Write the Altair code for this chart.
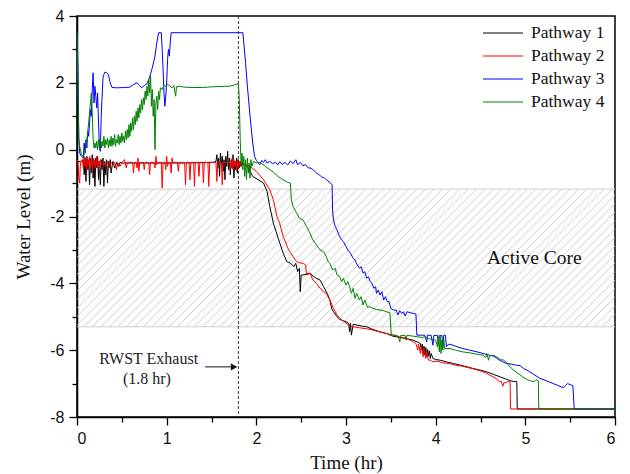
import altair as alt
import pandas as pd
import numpy as np

names = ["Pathway 1", "Pathway 2", "Pathway 3", "Pathway 4"]
colors = ["#000000", "#ff0000", "#0000ff", "#008000"]

t1 = [0.00, 0.04, 0.07, 0.08, 0.09, 0.10, 0.11, 0.12, 0.13, 0.14, 0.15, 0.16, 0.17, 0.18, 0.19, 0.20, 0.21, 0.22, 0.23, 0.24,
      0.25, 0.26, 0.27, 0.28, 0.29, 0.30, 0.31, 0.32, 0.33, 0.34, 0.35, 0.36, 0.37, 0.38, 0.40, 0.42, 0.44, 0.46, 0.48, 0.50,
      0.80, 1.20, 1.52, 1.55, 1.56, 1.57, 1.58, 1.59, 1.60, 1.61, 1.62, 1.63, 1.64, 1.65, 1.66, 1.67, 1.68, 1.69, 1.70, 1.71,
      1.72, 1.73, 1.74, 1.75, 1.76, 1.77, 1.78, 1.79, 1.80, 1.81, 1.82, 1.83, 1.84, 1.86, 1.90, 1.96, 2.02, 2.08, 2.12, 2.15,
      2.19, 2.25, 2.30, 2.34, 2.38, 2.42, 2.44, 2.46, 2.48, 2.49, 2.50, 2.52, 2.56, 2.60, 2.64, 2.67, 2.71, 2.75, 2.79, 2.82,
      2.84, 2.86, 2.90, 2.93, 2.97, 3.00, 3.03, 3.04, 3.05, 3.06, 3.08, 3.12, 3.18, 3.23, 3.30, 3.38, 3.45, 3.52, 3.60, 3.68,
      3.75, 3.80, 3.83, 3.84, 3.85, 3.86, 3.87, 3.88, 3.89, 3.90, 3.91, 3.92, 3.93, 3.94, 3.95, 3.97, 4.00, 4.05, 4.12, 4.20,
      4.28, 4.35, 4.42, 4.50, 4.57, 4.64, 4.72, 4.78, 4.84, 4.88, 4.905, 4.91, 6.00]
y1 = [-0.35, -0.36, -0.30, -0.75, -0.25, -0.95, -0.20, -0.60, -0.30, -1.05, -0.25, -0.70, -0.15, -0.85, -0.30, -1.10, -0.25, -0.55, -0.20, -0.90,
      -0.35, -1.05, -0.30, -0.60, -0.25, -1.10, -0.35, -0.75, -0.30, -1.00, -0.35, -0.55, -0.30, -0.70, -0.35, -0.55, -0.38, -0.50, -0.38, -0.40,
      -0.40, -0.40, -0.38, -0.35, -0.15, -0.55, -0.25, -0.80, -0.10, -0.45, -0.20, -0.65, -0.30, -0.90, -0.20, -0.50, -0.05, -0.60, -0.25, -0.75,
      -0.30, -0.55, -0.15, -0.85, -0.35, -0.60, -0.25, -0.70, -0.30, -0.55, -0.35, -0.50, -0.40, -0.42, -0.50, -0.80, -0.90, -1.00, -1.25, -1.70,
      -2.20, -2.70, -3.10, -3.35, -3.40, -3.50, -3.40, -3.65, -3.55, -4.25, -3.75, -3.75, -3.72, -3.70, -3.80, -3.85, -3.90, -4.10, -4.30, -4.50,
      -4.75, -4.85, -5.00, -5.08, -5.12, -5.15, -5.20, -5.45, -5.20, -5.55, -5.22, -5.25, -5.28, -5.30, -5.38, -5.45, -5.50, -5.58, -5.62, -5.66,
      -5.70, -5.76, -5.80, -6.00, -5.82, -6.10, -5.88, -6.15, -5.92, -6.20, -5.98, -6.18, -6.02, -6.25, -6.10, -6.25, -6.28, -6.30, -6.35, -6.40,
      -6.45, -6.50, -6.55, -6.60, -6.65, -6.72, -6.80, -6.86, -6.92, -6.94, -6.94, -7.76, -7.76]

t2 = [0.00, 0.01, 0.02, 0.03, 0.035, 0.04, 0.06, 0.07, 0.08, 0.09, 0.10, 0.11, 0.12, 0.13, 0.14, 0.15, 0.16, 0.17, 0.18, 0.19,
      0.20, 0.21, 0.22, 0.23, 0.24, 0.25, 0.26, 0.28, 0.30, 0.32, 0.34, 0.36, 0.38, 0.40, 0.42, 0.44, 0.45, 0.48, 0.50, 0.53,
      0.55, 0.56, 0.62, 0.63, 0.64, 0.66, 0.67, 0.68, 0.69, 0.70, 0.74, 0.75, 0.76, 0.80, 0.81, 0.82, 0.86, 0.87, 0.88, 0.89,
      0.90, 0.94, 0.95, 0.96, 0.98, 0.99, 1.00, 1.01, 1.02, 1.04, 1.05, 1.06, 1.07, 1.12, 1.13, 1.14, 1.20, 1.21, 1.22, 1.25,
      1.26, 1.27, 1.30, 1.31, 1.32, 1.35, 1.36, 1.37, 1.40, 1.41, 1.42, 1.46, 1.47, 1.48, 1.55, 1.56, 1.57, 1.61, 1.62, 1.63,
      1.70, 1.72, 1.73, 1.74, 1.75, 1.76, 1.77, 1.78, 1.79, 1.80, 1.81, 1.82, 1.83, 1.88, 1.93, 2.00, 2.08, 2.15, 2.19, 2.23,
      2.26, 2.30, 2.36, 2.41, 2.45, 2.48, 2.52, 2.55, 2.56, 2.60, 2.63, 2.67, 2.71, 2.75, 2.78, 2.82, 2.86, 2.90, 2.93, 2.98,
      3.03, 3.08, 3.15, 3.23, 3.30, 3.38, 3.45, 3.53, 3.60, 3.68, 3.75, 3.78, 3.80, 3.81, 3.83, 3.84, 3.86, 3.87, 3.89, 3.90,
      3.92, 3.94, 3.97, 4.02, 4.08, 4.15, 4.22, 4.30, 4.36, 4.42, 4.50, 4.56, 4.60, 4.64, 4.68, 4.71, 4.73, 4.75, 4.76, 4.79,
      4.81, 4.83, 4.835, 6.00]
y2 = [-0.30, -0.35, -0.85, -1.00, -0.60, -0.38, -0.30, -0.55, -0.20, -0.50, -0.25, -0.60, -0.30, -0.45, -0.20, -0.55, -0.30, -0.65, -0.25, -0.45,
      -0.30, -0.55, -0.20, -0.50, -0.35, -0.60, -0.30, -0.45, -0.38, -0.50, -0.35, -0.55, -0.38, -0.45, -0.38, -0.60, -0.38, -0.50, -0.38, -0.30,
      -0.55, -0.38, -0.38, -0.70, -0.38, -0.38, -0.55, -0.25, -0.65, -0.38, -0.38, -0.60, -0.38, -0.38, -0.75, -0.38, -0.38, -0.55, -0.20, -0.45,
      -0.38, -0.38, -1.15, -0.38, -0.38, -0.60, -0.20, -0.50, -0.38, -0.38, -0.70, -0.25, -0.38, -0.38, -0.65, -0.38, -0.38, -1.05, -0.38, -0.38,
      -0.90, -0.38, -0.38, -1.10, -0.38, -0.38, -0.80, -0.38, -0.38, -1.00, -0.38, -0.38, -1.10, -0.38, -0.38, -0.95, -0.38, -0.38, -1.05, -0.38,
      -0.38, -0.55, -0.25, -0.60, -0.30, -0.50, -0.35, -0.65, -0.30, -0.55, -0.35, -0.50, -0.40, -0.45, -0.50, -0.65, -0.90, -1.20, -1.50, -2.00,
      -2.20, -2.60, -3.00, -3.20, -3.35, -3.38, -3.40, -3.45, -3.75, -3.70, -3.90, -4.00, -4.15, -4.25, -4.30, -4.50, -4.75, -4.95, -5.05, -5.15,
      -5.25, -5.30, -5.33, -5.36, -5.40, -5.46, -5.50, -5.55, -5.60, -5.65, -5.75, -5.80, -6.00, -5.82, -6.10, -5.88, -6.20, -5.95, -6.25, -6.05,
      -6.30, -6.30, -6.35, -6.33, -6.38, -6.40, -6.45, -6.48, -6.52, -6.56, -6.62, -6.68, -6.74, -6.80, -6.86, -6.95, -6.92, -7.08, -6.98, -6.96,
      -6.94, -6.94, -7.76, -7.76]

t3 = [0.00, 0.01, 0.02, 0.03, 0.05, 0.07, 0.08, 0.09, 0.10, 0.11, 0.12, 0.13, 0.15, 0.16, 0.17, 0.18, 0.19, 0.20, 0.21, 0.22,
      0.23, 0.24, 0.25, 0.26, 0.27, 0.28, 0.29, 0.30, 0.31, 0.33, 0.35, 0.37, 0.39, 0.45, 0.52, 0.59, 0.63, 0.67, 0.70, 0.72,
      0.75, 0.78, 0.81, 0.84, 0.87, 0.89, 0.91, 0.94, 0.95, 0.96, 0.97, 0.98, 0.99, 1.00, 1.01, 1.02, 1.03, 1.04, 1.05, 1.85,
      1.88, 1.90, 1.93, 1.96, 1.98, 2.00, 2.02, 2.04, 2.06, 2.08, 2.10, 2.12, 2.15, 2.18, 2.21, 2.24, 2.26, 2.29, 2.32, 2.35,
      2.38, 2.41, 2.44, 2.46, 2.49, 2.52, 2.55, 2.58, 2.61, 2.64, 2.67, 2.70, 2.73, 2.76, 2.79, 2.82, 2.845, 2.85, 2.86, 2.88,
      2.90, 2.92, 2.95, 2.97, 3.00, 3.02, 3.05, 3.08, 3.10, 3.12, 3.15, 3.17, 3.19, 3.21, 3.23, 3.25, 3.27, 3.29, 3.31, 3.33,
      3.34, 3.36, 3.38, 3.40, 3.42, 3.44, 3.46, 3.48, 3.50, 3.53, 3.56, 3.58, 3.60, 3.62, 3.64, 3.66, 3.68, 3.72, 3.75, 3.78,
      3.79, 3.85, 3.88, 3.90, 3.91, 3.95, 3.97, 3.98, 4.02, 4.03, 4.04, 4.07, 4.08, 4.09, 4.11, 4.12, 4.13, 4.16, 4.22, 4.30,
      4.38, 4.46, 4.53, 4.60, 4.65, 4.70, 4.75, 4.79, 4.85, 4.90, 4.94, 4.98, 5.02, 5.08, 5.16, 5.24, 5.31, 5.36, 5.40, 5.43,
      5.45, 5.47, 5.50, 5.53, 5.545, 6.00]
y3 = [3.50, 2.60, 0.40, -0.10, -0.20, -0.25, 0.20, -0.10, 0.30, 0.05, 0.55, 0.40, 1.20, 1.00, 1.80, 2.30, 1.40, 1.90, 1.60, 1.25,
      1.70, 0.80, 0.10, -0.05, 1.00, 1.60, 2.15, 2.25, 2.32, 2.30, 2.25, 2.00, 1.86, 1.85, 1.86, 1.87, 1.95, 2.00, 1.92, 1.85,
      1.92, 1.97, 2.17, 2.45, 2.80, 3.20, 3.50, 3.50, 3.00, 2.40, 1.70, 1.30, 1.60, 2.00, 2.70, 3.00, 2.80, 3.20, 3.50, 3.50,
      2.60, 1.90, 1.00, 0.20, -0.20, -0.32, -0.40, -0.45, -0.32, -0.38, -0.30, -0.40, -0.35, -0.42, -0.38, -0.45, -0.36, -0.44, -0.38, -0.46,
      -0.34, -0.42, -0.30, -0.45, -0.38, -0.48, -0.45, -0.55, -0.55, -0.62, -0.70, -0.75, -0.82, -0.85, -0.92, -0.98, -1.05, -1.80, -2.10, -2.30,
      -2.40, -2.55, -2.70, -2.75, -2.90, -3.00, -3.10, -3.25, -3.30, -3.42, -3.55, -3.50, -3.70, -3.65, -3.85, -3.80, -3.95, -4.00, -4.15, -4.10,
      -4.30, -4.20, -4.35, -4.25, -4.50, -4.40, -4.55, -4.55, -4.75, -4.80, -4.80, -4.95, -4.82, -4.90, -4.85, -4.98, -4.85, -4.88, -4.90, -4.92,
      -5.55, -5.55, -5.56, -5.75, -5.55, -5.56, -5.85, -5.56, -5.56, -5.80, -5.56, -5.56, -5.90, -5.55, -5.56, -5.90, -5.85, -5.82, -5.88, -5.95,
      -6.00, -6.05, -6.10, -6.15, -6.18, -6.28, -6.35, -6.40, -6.42, -6.45, -6.46, -6.55, -6.60, -6.70, -6.84, -6.92, -7.00, -7.05, -7.10, -7.12,
      -7.05, -7.00, -7.03, -7.06, -7.76, -7.76]

t4 = [0.00, 0.01, 0.02, 0.03, 0.05, 0.07, 0.09, 0.11, 0.13, 0.15, 0.16, 0.17, 0.18, 0.19, 0.20, 0.21, 0.22, 0.23, 0.24, 0.25,
      0.26, 0.27, 0.28, 0.29, 0.30, 0.31, 0.32, 0.33, 0.34, 0.35, 0.36, 0.37, 0.38, 0.39, 0.40, 0.41, 0.42, 0.43, 0.44, 0.45,
      0.46, 0.47, 0.48, 0.49, 0.50, 0.51, 0.52, 0.53, 0.54, 0.55, 0.56, 0.57, 0.58, 0.59, 0.60, 0.61, 0.62, 0.63, 0.64, 0.65,
      0.66, 0.67, 0.68, 0.69, 0.70, 0.71, 0.72, 0.73, 0.74, 0.75, 0.76, 0.77, 0.78, 0.79, 0.80, 0.81, 0.82, 0.83, 0.84, 0.85,
      0.86, 0.87, 0.88, 0.89, 0.90, 0.91, 0.92, 0.93, 0.95, 0.97, 0.99, 1.01, 1.03, 1.06, 1.08, 1.10, 1.11, 1.14, 1.20, 1.30,
      1.40, 1.50, 1.60, 1.70, 1.76, 1.80, 1.81, 1.82, 1.83, 1.84, 1.85, 1.86, 1.87, 1.88, 1.89, 1.90, 1.91, 1.92, 1.93, 1.94,
      1.95, 1.97, 2.00, 2.03, 2.06, 2.10, 2.15, 2.19, 2.24, 2.30, 2.35, 2.38, 2.39, 2.41, 2.45, 2.48, 2.52, 2.56, 2.59, 2.63,
      2.67, 2.71, 2.75, 2.78, 2.80, 2.82, 2.85, 2.88, 2.90, 2.93, 2.95, 2.97, 3.00, 3.02, 3.04, 3.06, 3.08, 3.10, 3.12, 3.15,
      3.17, 3.19, 3.21, 3.24, 3.27, 3.30, 3.34, 3.38, 3.42, 3.45, 3.49, 3.505, 3.55, 3.58, 3.60, 3.61, 3.66, 3.67, 3.68, 3.75,
      3.80, 3.85, 3.88, 3.92, 3.96, 4.00, 4.02, 4.03, 4.04, 4.05, 4.06, 4.07, 4.08, 4.09, 4.10, 4.12, 4.16, 4.22, 4.30, 4.38,
      4.46, 4.53, 4.56, 4.57, 4.59, 4.60, 4.64, 4.68, 4.72, 4.76, 4.80, 4.83, 4.87, 4.92, 4.97, 5.02, 5.06, 5.10, 5.12, 5.145,
      5.15, 6.00]
y4 = [3.50, 2.00, 0.30, 0.10, -0.15, -0.20, -0.10, 0.30, 0.80, 1.40, 1.70, 1.10, 0.30, 0.05, 0.20, 0.05, 0.25, 0.00, 0.30, 0.10,
      0.35, 0.05, 0.25, 0.10, 0.40, 0.05, 0.30, 0.15, 0.35, 0.05, 0.30, 0.10, 0.40, 0.10, 0.35, 0.15, 0.45, 0.10, 0.30, 0.20,
      0.45, 0.15, 0.40, 0.20, 0.50, 0.25, 0.40, 0.20, 0.55, 0.30, 0.60, 0.35, 0.75, 0.40, 0.80, 0.55, 0.95, 0.60, 1.00, 0.75,
      1.15, 0.85, 1.25, 0.95, 1.35, 1.10, 1.50, 1.20, 1.55, 1.35, 1.75, 1.50, 1.90, 1.60, 2.10, 1.70, 2.25, 1.30, 1.80, 1.00,
      1.50, 0.00, 1.40, 1.60, 1.20, 1.75, 1.50, 1.85, 1.80, 1.95, 1.88, 1.96, 1.92, 1.85, 1.92, 1.60, 1.88, 1.90, 1.87, 1.86,
      1.86, 1.88, 1.89, 1.90, 1.94, 1.98, 1.50, 0.30, -0.40, -0.10, -0.60, -0.20, -0.80, -0.30, -0.90, -0.25, -0.70, -0.40, -0.85, -0.30,
      -0.50, -0.35, -0.40, -0.38, -0.42, -0.50, -0.60, -0.67, -0.80, -0.90, -0.98, -1.00, -1.50, -1.70, -1.90, -2.05, -2.10, -2.30, -2.45, -2.70,
      -2.85, -3.00, -3.05, -3.20, -3.35, -3.40, -3.60, -3.55, -3.75, -3.80, -3.95, -3.85, -4.05, -3.95, -4.10, -4.30, -4.15, -4.45, -4.30, -4.50,
      -4.40, -4.65, -4.50, -4.72, -4.70, -4.75, -4.78, -4.80, -4.82, -4.85, -4.88, -5.55, -5.55, -5.58, -5.75, -5.56, -5.56, -5.70, -5.56, -5.58,
      -5.60, -5.62, -5.60, -5.65, -5.68, -5.70, -5.90, -5.60, -6.05, -5.55, -6.10, -5.70, -6.00, -5.65, -5.95, -5.95, -5.95, -6.00, -6.05, -6.08,
      -6.12, -6.15, -6.22, -6.10, -6.30, -6.18, -6.15, -6.20, -6.28, -6.30, -6.40, -6.50, -6.60, -6.70, -6.80, -6.88, -6.92, -6.94, -6.88, -6.92,
      -7.76, -7.76]

# Active core band and annotations
core_top = -1.18
core_bottom = -5.30
rwst_time = 1.8
arrow_t = [1.43, 1.74]
arrow_y = [-6.50, -6.50]
notes = [
    {"t": 0.80, "y": -6.26, "text": "RWST Exhaust", "size": 16},
    {"t": 0.78, "y": -6.86, "text": "(1.8 hr)", "size": 16},
    {"t": 5.10, "y": -3.24, "text": "Active Core", "size": 19.5},
]

W, H = 538, 401
XMIN, XMAX, YMIN, YMAX = 0, 6, -8, 4
px_per_x = W / (XMAX - XMIN)
px_per_y = H / (YMAX - YMIN)

rows = []
for name, ts, ys in zip(names, [t1, t2, t3, t4], [y1, y2, y3, y4]):
    for i, (t, y) in enumerate(zip(ts, ys)):
        rows.append({"series": name, "t": t, "y": y, "i": i})
df = pd.DataFrame(rows)

# hatch pattern for the active core band (45 degree lines)
band_h_px = (core_top - core_bottom) * px_per_y
spacing_px = 8.5
starts = np.arange(-band_h_px, W + spacing_px, spacing_px) / px_per_x
hatch = pd.DataFrame({
    "x0": starts,
    "x1": starts + band_h_px / px_per_x,
    "y0": core_bottom,
    "y1": core_top,
})

xs = alt.Scale(domain=[XMIN, XMAX], nice=False, zero=False)
ys_ = alt.Scale(domain=[YMIN, YMAX], nice=False, zero=False)

SERIF = "Liberation Serif"
SANS = "Liberation Sans"

x_major = alt.Axis(values=[0, 1, 2, 3, 4, 5, 6], labelExpr="datum.value + ''", title="Time (hr)",
                   orient="bottom", tickSize=8, labelPadding=5, titlePadding=7, grid=False)
y_major = alt.Axis(values=[-8, -6, -4, -2, 0, 2, 4], labelExpr="datum.value + ''", title="Water Level (m)",
                   orient="left", tickSize=8, labelPadding=5, titlePadding=16, grid=False)
x_minor = alt.Axis(values=[0.5, 1.5, 2.5, 3.5, 4.5, 5.5], labels=False, title=None, orient="bottom",
                   tickSize=5, domain=False, grid=False)
y_minor = alt.Axis(values=[-7, -5, -3, -1, 1, 3], labels=False, title=None, orient="left",
                   tickSize=5, domain=False, grid=False)

hatch_layer = alt.Chart(hatch).mark_rule(color="#c4c4c4", strokeWidth=0.8, clip=True).encode(
    x=alt.X("x0:Q", scale=xs, axis=None), x2="x1:Q",
    y=alt.Y("y0:Q", scale=ys_, axis=None), y2="y1:Q",
)

band_edges = alt.Chart(pd.DataFrame({"y": [core_top, core_bottom]})).mark_rule(
    color="#cfcfcf", strokeWidth=1).encode(
    y=alt.Y("y:Q", scale=ys_, axis=None),
)

rwst_line = alt.Chart(pd.DataFrame({"t": [rwst_time]})).mark_rule(
    color="#222222", strokeWidth=0.9, strokeDash=[3, 2]).encode(
    x=alt.X("t:Q", scale=xs, axis=None),
)

lines = alt.Chart(df).mark_line(strokeWidth=1, clip=True).encode(
    x=alt.X("t:Q", scale=xs, axis=x_major),
    y=alt.Y("y:Q", scale=ys_, axis=y_major),
    order="i:Q",
    color=alt.Color("series:N", scale=alt.Scale(domain=names, range=colors),
                    legend=alt.Legend(title=None, orient="none", legendX=415, legendY=6,
                                      symbolType="M-2,0H2", symbolSize=400, symbolStrokeWidth=1.2,
                                      labelFont=SERIF, labelFontSize=17.5, labelColor="#111111",
                                      labelOffset=17, rowPadding=3, padding=0)),
)

minor_layer = alt.Chart(pd.DataFrame({"t": [0], "y": [0]})).mark_point(opacity=0).encode(
    x=alt.X("t:Q", scale=xs, axis=x_minor),
    y=alt.Y("y:Q", scale=ys_, axis=y_minor),
)

arrow_line = alt.Chart(pd.DataFrame({"t": arrow_t, "y": arrow_y})).mark_line(
    color="#111111", strokeWidth=1).encode(
    x=alt.X("t:Q", scale=xs, axis=None), y=alt.Y("y:Q", scale=ys_, axis=None))
arrow_head = alt.Chart(pd.DataFrame({"t": [arrow_t[1] + 0.012], "y": [arrow_y[1]]})).mark_point(
    shape="triangle-right", filled=True, size=55, color="#111111", opacity=1).encode(
    x=alt.X("t:Q", scale=xs, axis=None), y=alt.Y("y:Q", scale=ys_, axis=None))

notes_df = pd.DataFrame(notes)
note_small = alt.Chart(notes_df[notes_df["size"] < 18]).mark_text(
    font=SERIF, fontSize=16, color="#222222", baseline="middle", align="center").encode(
    x=alt.X("t:Q", scale=xs, axis=None), y=alt.Y("y:Q", scale=ys_, axis=None), text="text:N")
note_big = alt.Chart(notes_df[notes_df["size"] > 18]).mark_text(
    font=SERIF, fontSize=19.5, color="#111111", baseline="middle", align="center").encode(
    x=alt.X("t:Q", scale=xs, axis=None), y=alt.Y("y:Q", scale=ys_, axis=None), text="text:N")

chart = alt.layer(
    hatch_layer, band_edges, rwst_line, lines, minor_layer, arrow_line, arrow_head, note_small, note_big
).resolve_axis(x="independent", y="independent").properties(
    width=W, height=H,
    autosize=alt.AutoSizeParams(type="none"),
    padding={"left": 69, "top": 8, "right": 7, "bottom": 57},
).configure_view(
    stroke="black", strokeWidth=1.5
).configure_axis(
    domainColor="black", domainWidth=1.5, tickColor="black", tickWidth=1.3,
    labelFont=SANS, labelFontSize=16, labelColor="#111111",
    titleFont=SERIF, titleFontSize=19, titleFontWeight="normal", titleColor="#111111",
)

chart.save("out.html", embed_options={"renderer": "svg", "actions": False})
